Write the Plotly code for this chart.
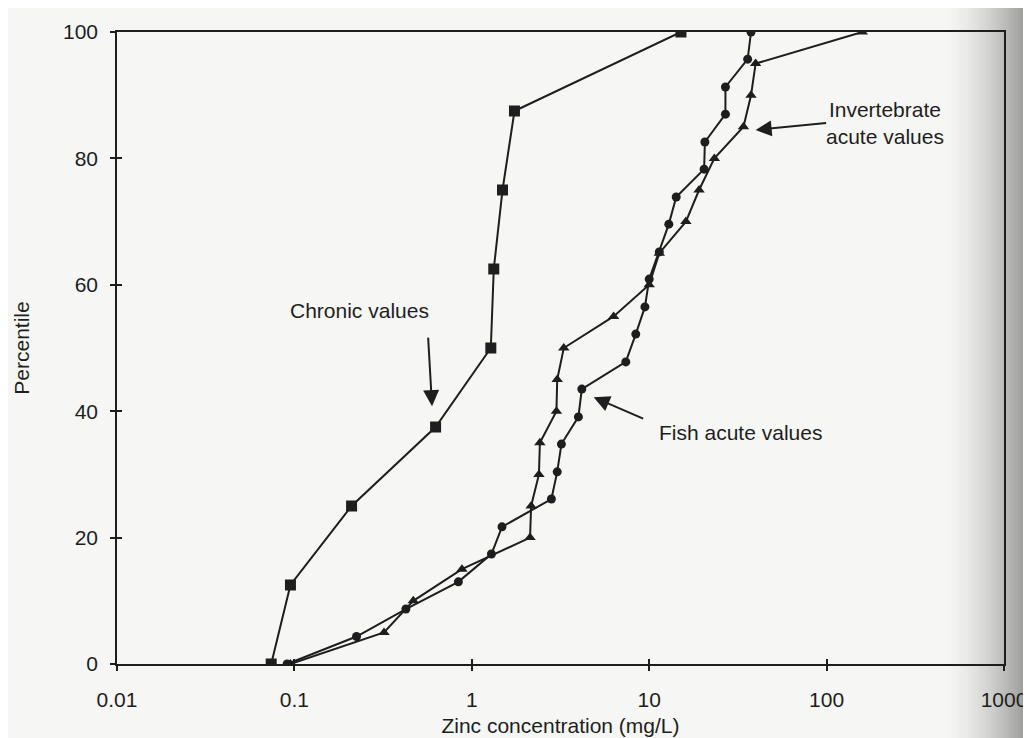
import plotly.graph_objects as go

# ---------------- data ----------------
chronic_x = [0.074, 0.095, 0.21, 0.625, 1.28, 1.33, 1.49, 1.74, 15.1]
chronic_y = [0, 12.5, 25, 37.5, 50, 62.5, 75, 87.5, 100]

fish_x = [0.091, 0.224, 0.425, 0.84, 1.29, 1.48, 2.81, 3.03, 3.2, 3.99, 4.17, 7.38,
          8.4, 9.46, 10.0, 11.4, 12.9, 14.2, 20.4, 20.6, 26.9, 26.9, 35.9, 37.5]
fish_y = [0, 4.35, 8.7, 13.0, 17.4, 21.7, 26.1, 30.4, 34.8, 39.1, 43.5, 47.8,
          52.2, 56.5, 60.9, 65.2, 69.6, 73.9, 78.3, 82.6, 87.0, 91.3, 95.7, 100]

invert_x = [0.095, 0.32, 0.468, 0.88, 2.13, 2.16, 2.39, 2.42, 3.0, 3.03, 3.30,
            6.3, 10.0, 11.4, 16.1, 19.1, 23.3, 34.0, 37.5, 39.8, 159]
invert_y = [0, 5, 10, 15, 20, 25, 30, 35, 40, 45, 50,
            55, 60, 65, 70, 75, 80, 85, 90, 95, 100]

x_tickvals = [0.01, 0.1, 1, 10, 100, 1000]
x_ticktext = ["0.01", "0.1", "1", "10", "100", "1000"]
y_tickvals = [0, 20, 40, 60, 80, 100]

# ---------------- styling ----------------
INK = "#1e1e1e"
FONT = "Liberation Sans, Arial, sans-serif"
FS = 21

fig = go.Figure()

fig.add_trace(go.Scatter(
    x=chronic_x, y=chronic_y, mode="lines+markers", name="Chronic values",
    line=dict(color=INK, width=2),
    marker=dict(symbol="square", size=11, color=INK),
))
fig.add_trace(go.Scatter(
    x=fish_x, y=fish_y, mode="lines+markers", name="Fish acute values",
    line=dict(color=INK, width=2),
    marker=dict(symbol="circle", size=9, color=INK),
))
fig.add_trace(go.Scatter(
    x=invert_x, y=invert_y, mode="lines+markers", name="Invertebrate acute values",
    line=dict(color=INK, width=2),
    marker=dict(symbol="triangle-up", size=10, color=INK),
))
# empty trace on overlay axes (used only for the inner half of the cross ticks)
fig.add_trace(go.Scatter(x=[], y=[], xaxis="x2", yaxis="y2", showlegend=False,
                         hoverinfo="skip"))

# page-gutter shading at the right edge (smooth gradient)
bg = (246, 246, 244)
dark = (150, 150, 148)
x0_px, x1_px = 945, 1031
n = 40
for i in range(n):
    t = ((i + 0.5) / n) ** 1.6
    c = tuple(int(round(bg[k] + (dark[k] - bg[k]) * t)) for k in range(3))
    a = x0_px + (x1_px - x0_px) * i / n
    b = x0_px + (x1_px - x0_px) * (i + 1) / n
    fig.add_shape(type="rect", xref="paper", yref="paper",
                  x0=(a - 107) / 900, x1=(b - 107) / 900 + 0.0015,
                  y0=-0.14, y1=1.05, fillcolor="rgb(%d,%d,%d)" % c,
                  line=dict(width=0), layer="below")

axis_common = dict(showline=True, linecolor=INK, linewidth=1.5, mirror=True,
                   showgrid=False, zeroline=False, ticks="outside", ticklen=5,
                   tickwidth=1.5, tickcolor=INK,
                   tickfont=dict(family=FONT, size=FS, color=INK))

fig.update_layout(
    width=1031, height=738,
    margin=dict(l=107, r=24, t=24, b=82),
    paper_bgcolor="#f6f6f4",
    plot_bgcolor="rgba(0,0,0,0)",
    showlegend=False,
    font=dict(family=FONT, size=FS, color=INK),
    xaxis=dict(type="log", range=[-2, 3], tickvals=x_tickvals, ticktext=x_ticktext,
               ticklabelstandoff=11,
               title=dict(text="Zinc concentration (mg/L)", standoff=8,
                          font=dict(family=FONT, size=FS, color=INK)),
               **axis_common),
    yaxis=dict(range=[0, 100], tickvals=y_tickvals, ticklabelstandoff=8,
               title=dict(text="Percentile", standoff=28,
                          font=dict(family=FONT, size=FS, color=INK)),
               **axis_common),
    xaxis2=dict(type="log", range=[-2, 3], overlaying="x", tickvals=x_tickvals,
                showticklabels=False, ticks="inside", ticklen=5, tickwidth=1.5,
                tickcolor=INK, showgrid=False, zeroline=False, showline=False,
                side="bottom"),
    yaxis2=dict(range=[0, 100], overlaying="y", tickvals=y_tickvals,
                showticklabels=False, ticks="inside", ticklen=5, tickwidth=1.5,
                tickcolor=INK, showgrid=False, zeroline=False, showline=False,
                side="left"),
)

# annotations: labels
label_font = dict(family=FONT, size=FS, color=INK)
fig.add_annotation(x=-0.633, y=55.9, text="Chronic values", showarrow=False,
                   font=label_font, xanchor="center", yanchor="middle")
fig.add_annotation(x=1.517, y=36.7, text="Fish acute values", showarrow=False,
                   font=label_font, xanchor="center", yanchor="middle")
fig.add_annotation(x=2.328, y=85.6, text="Invertebrate<br>acute values",
                   showarrow=False, font=label_font, xanchor="center",
                   yanchor="middle", align="center")

# arrows
arrow_style = dict(showarrow=True, text="", arrowhead=2, arrowsize=1.6,
                   arrowwidth=2, arrowcolor=INK)
fig.add_annotation(x=-0.224, y=40.8, ax=-4, ay=-70, **arrow_style)
fig.add_annotation(x=0.687, y=42.2, ax=51, ay=22, **arrow_style)
fig.add_annotation(x=1.600, y=84.5, ax=72, ay=-7, **arrow_style)

fig.write_html("out.html")
